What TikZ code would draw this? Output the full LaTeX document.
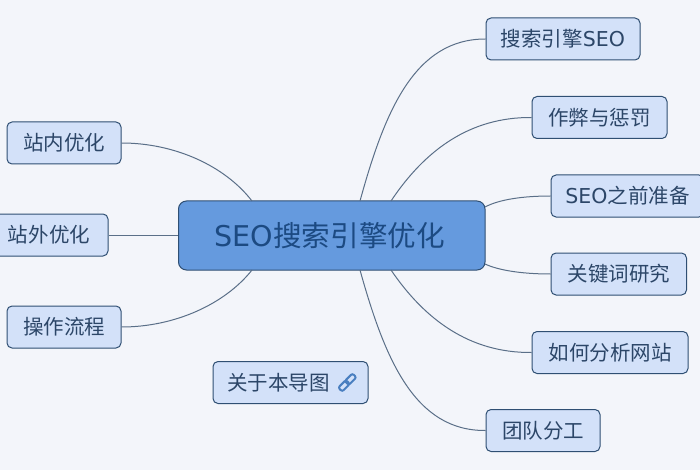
\documentclass[tikz,border=0pt]{standalone}
\usepackage{fontspec}
\setmainfont{Noto Sans CJK SC}
\newfontfamily\latinf{DejaVu Sans}
\usetikzlibrary{calc}
\definecolor{bgc}{HTML}{F3F5FA}
\definecolor{boxc}{HTML}{D3E1F9}
\definecolor{centerc}{HTML}{659ADE}
\definecolor{edgec}{HTML}{2F4F73}
\definecolor{linkc}{HTML}{5A6F88}
\definecolor{txtc}{HTML}{2C4668}
\definecolor{ctxtc}{HTML}{1C4A82}
\definecolor{iconc}{HTML}{4A7FC0}
\tikzset{
  x=1pt,y=-1pt,
  topic/.style={draw=edgec,fill=boxc,line width=1pt,rounded corners=5pt,inner sep=0pt,
    text=txtc,font=\fontsize{20.5}{24}\selectfont,minimum height=42pt},
  central/.style={draw=edgec,fill=centerc,line width=1pt,rounded corners=8pt,inner sep=0pt,
    text=ctxtc,font=\fontsize{28.6}{32}\selectfont,minimum width=306.5pt,minimum height=69pt},
  branch/.style={draw=linkc,line width=1pt},
  iconring/.style={draw=iconc,line width=2pt,rounded corners=2pt}
}
\begin{document}
\begin{tikzpicture}
\clip (0,0) rectangle (700,470);
\fill[bgc] (0,0) rectangle (700,470);
\node[central] (c) at (331.75,235.5) {\hbox{{\latinf SEO}搜索引擎优化\kern4pt}};
\coordinate (tl) at (252,201);
\coordinate (bl) at (252,270);
\coordinate (t1) at (360,201);
\coordinate (t2) at (391,201);
\coordinate (t3) at (485,207);
\coordinate (b3) at (485,264);
\coordinate (b2) at (391,270);
\coordinate (b1) at (360,270);
\node[topic,minimum width=114pt] (a1) at (64,143) {站内优化};
\node[topic,minimum width=118pt] (a2) at (49,235) {站外优化};
\node[topic,minimum width=114pt] (a3) at (64,327) {操作流程};
\node[topic,minimum width=154pt] (r1) at (563,39) {搜索引擎{\latinf SEO}};
\node[topic,minimum width=135pt] (r2) at (599.5,117.5) {作弊与惩罚};
\node[topic,minimum width=153pt] (r3) at (627.5,196) {{\latinf SEO}之前准备};
\node[topic,minimum width=135.5pt] (r4) at (618.75,274) {关键词研究};
\node[topic,minimum width=156pt] (r5) at (610,352.5) {如何分析网站};
\node[topic,minimum width=114pt] (r6) at (543,430.5) {团队分工};
\node[topic,minimum width=155pt] (m) at (290.5,382.5) {\hbox{关于本导图\kern24pt}};
\draw[branch] (a1.east) .. controls (175,143) and (225,166) .. (tl);
\draw[branch] (a2.east) -- (a2.east -| c.west);
\draw[branch] (a3.east) .. controls (175,327) and (225,304) .. (bl);
\draw[branch] (r1.west) .. controls (415,39) and (385,110) .. (t1);
\draw[branch] (r2.west) .. controls (470,117) and (425,150) .. (t2);
\draw[branch] (r3.west) .. controls (525,196) and (500,199) .. (t3);
\draw[branch] (r4.west) .. controls (525,274) and (500,271) .. (b3);
\draw[branch] (r5.west) .. controls (470,353) and (425,320) .. (b2);
\draw[branch] (r6.west) .. controls (415,431) and (385,360) .. (b1);
\begin{scope}[shift={(347.3,382.5)},rotate=45]
\draw[iconring] (-10,-2.8) rectangle (0.8,2.8);
\draw[iconring] (-0.8,-2.8) rectangle (10,2.8);
\end{scope}
\end{tikzpicture}
\end{document}
